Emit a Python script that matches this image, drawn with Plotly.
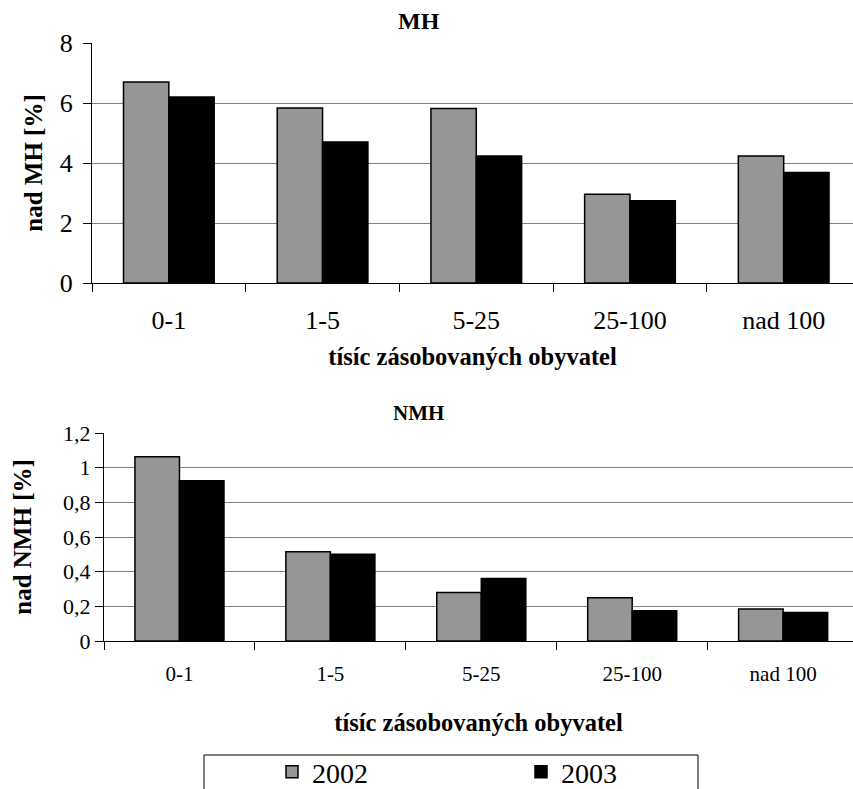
import plotly.graph_objects as go

categories = ["0-1", "1-5", "5-25", "25-100", "nad 100"]
mh_2002 = [6.7, 5.83, 5.82, 2.96, 4.23]
mh_2003 = [6.2, 4.7, 4.23, 2.74, 3.68]
nmh_2002 = [1.063, 0.515, 0.28, 0.25, 0.185]
nmh_2003 = [0.925, 0.50, 0.36, 0.175, 0.165]
series_names = ["2002", "2003"]

W, H = 853, 789
FONT = "Liberation Serif, Times New Roman, DejaVu Serif, serif"
GRAY = "#969696"


def px_x(v):
    return v / W


def px_y(v):
    return 1 - v / H


def f(size):
    return dict(family=FONT, size=size, color="black")


fig = go.Figure()

fig.add_trace(go.Bar(x=categories, y=mh_2002, name=series_names[0], marker=dict(color=GRAY, line=dict(color="black", width=1.5)),
                     xaxis="x", yaxis="y", legendgroup="a"))
fig.add_trace(go.Bar(x=categories, y=mh_2003, name=series_names[1], marker=dict(color="black", line=dict(color="black", width=1.5)),
                     xaxis="x", yaxis="y", legendgroup="b"))
fig.add_trace(go.Bar(x=categories, y=nmh_2002, name=series_names[0], marker=dict(color=GRAY, line=dict(color="black", width=1.5)),
                     xaxis="x2", yaxis="y2", legendgroup="a", showlegend=False))
fig.add_trace(go.Bar(x=categories, y=nmh_2003, name=series_names[1], marker=dict(color="black", line=dict(color="black", width=1.5)),
                     xaxis="x2", yaxis="y2", legendgroup="b", showlegend=False))

axis_common = dict(showline=True, linecolor="black", linewidth=1, ticks="outside", ticklen=8,
                   tickcolor="black", tickwidth=1, zeroline=False, automargin=False)

fig.update_layout(
    width=W, height=H,
    margin=dict(l=0, r=0, t=0, b=0, autoexpand=False),
    paper_bgcolor="white", plot_bgcolor="white",
    separators=", ",
    barmode="group", bargap=0.41, bargroupgap=0,
    font=f(20),
    xaxis=dict(domain=[px_x(92), 1], anchor="y", type="category", range=[-0.5, 4.451],
               tickson="boundaries", showgrid=False, tickfont=f(26), ticklabelstandoff=14,
               title=dict(text="<b>tísíc zásobovaných obyvatel</b>", font=f(24.5), standoff=13),
               **axis_common),
    yaxis=dict(domain=[px_y(283), px_y(43)], anchor="x", range=[0, 8], dtick=2,
               showgrid=True, gridcolor="#808080", gridwidth=1, tickfont=f(26), ticklabelstandoff=5,
               title=dict(text="<b>nad MH [%]</b>", font=f(25), standoff=10),
               **axis_common),
    xaxis2=dict(domain=[px_x(104), 1], anchor="y2", type="category", range=[-0.5, 4.463],
                tickson="boundaries", showgrid=False, tickfont=f(21), ticklabelstandoff=14,
                title=dict(text="<b>tísíc zásobovaných obyvatel</b>", font=f(24.5), standoff=28),
                **axis_common),
    yaxis2=dict(domain=[px_y(641), px_y(433)], anchor="x2", range=[0, 1.2], dtick=0.2,
                showgrid=True, gridcolor="#808080", gridwidth=1, tickfont=f(22),
                title=dict(text="<b>nad NMH [%]</b>", font=f(25), standoff=24),
                **axis_common),
    legend=dict(orientation="h", x=px_x(272), xanchor="left", y=px_y(772), yanchor="middle",
                font=f(28), entrywidth=204, entrywidthmode="pixels",
                bgcolor="rgba(0,0,0,0)", borderwidth=0),
    annotations=[
        dict(text="<b>MH</b>", x=px_x(419), y=px_y(21), xref="paper", yref="paper",
             xanchor="center", yanchor="middle", showarrow=False, font=f(24)),
        dict(text="<b>NMH</b>", x=px_x(418), y=px_y(413), xref="paper", yref="paper",
             xanchor="center", yanchor="middle", showarrow=False, font=f(21)),
    ],
    shapes=[
        dict(type="rect", xref="paper", yref="paper", x0=px_x(204), x1=px_x(698),
             y0=px_y(800), y1=px_y(755), line=dict(color="black", width=1), fillcolor="rgba(0,0,0,0)"),
    ],
)

fig.write_html("out.html")
